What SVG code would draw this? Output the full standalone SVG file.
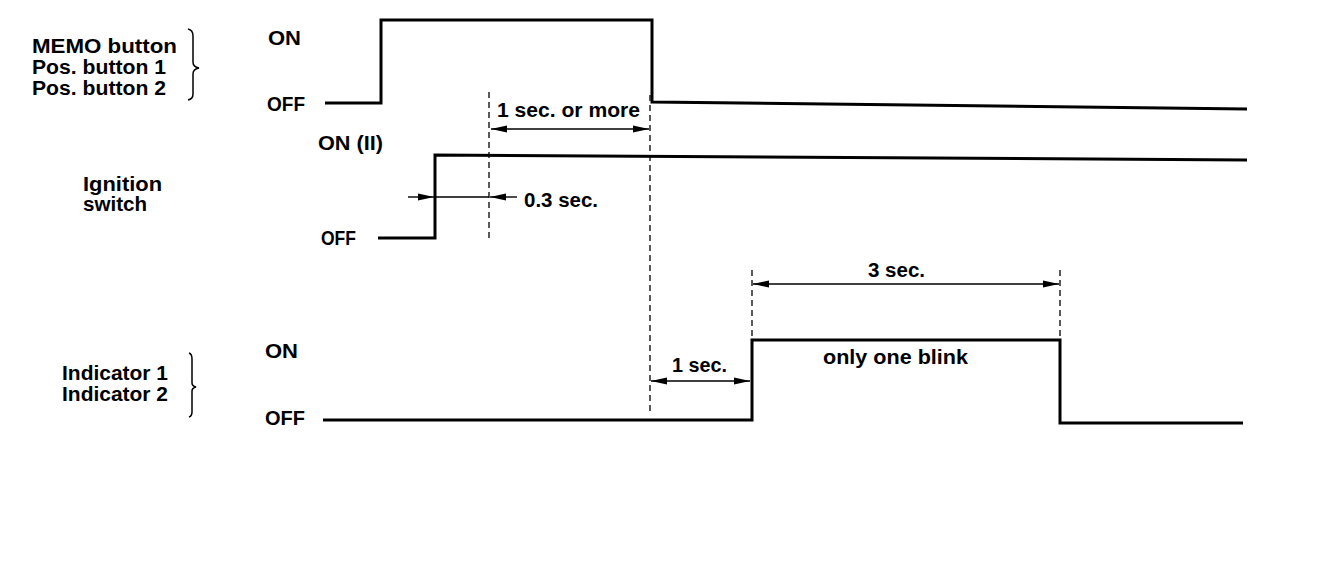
<svg xmlns="http://www.w3.org/2000/svg" width="1344" height="568" viewBox="0 0 1344 568">
<defs>
<style>
.t{font-family:"Liberation Sans",Arial,sans-serif;font-weight:bold;font-size:20px;fill:#000}
.sig{fill:none;stroke:#000;stroke-width:3}
.dash{fill:none;stroke:#000;stroke-width:1.3;stroke-dasharray:6,4}
.dim{fill:none;stroke:#000;stroke-width:1.4}
.br{fill:none;stroke:#000;stroke-width:1.5}
</style>
<marker id="ah" viewBox="0 0 16 8" refX="16" refY="4" markerWidth="16" markerHeight="8" markerUnits="userSpaceOnUse" orient="auto-start-reverse">
<path d="M0,0.5 L16,4 L0,7.5 Z" fill="#000"/>
</marker>
</defs>
<rect width="1344" height="568" fill="#fff"/>

<g id="memo">
<text class="t" x="32" y="53" textLength="145" lengthAdjust="spacingAndGlyphs">MEMO button</text>
<text class="t" x="32" y="74" textLength="134" lengthAdjust="spacingAndGlyphs">Pos. button 1</text>
<text class="t" x="32" y="95" textLength="134" lengthAdjust="spacingAndGlyphs">Pos. button 2</text>
<path class="br" d="M188,29 Q193,30 193,36 L193,62 Q193,67 199,68 Q193,69 193,74 L193,94 Q193,99 188,100"/>
<text class="t" x="268" y="45" textLength="33" lengthAdjust="spacingAndGlyphs">ON</text>
<text class="t" x="267" y="111" textLength="38" lengthAdjust="spacingAndGlyphs">OFF</text>
<path class="sig" d="M325,103 L381,103 L381,20 L652,20 L652,102 L1247,109"/>
</g>

<g id="ignition">
<text class="t" x="83" y="191" textLength="79" lengthAdjust="spacingAndGlyphs">Ignition</text>
<text class="t" x="83" y="211" textLength="64" lengthAdjust="spacingAndGlyphs">switch</text>
<text class="t" x="318" y="150" textLength="65" lengthAdjust="spacingAndGlyphs">ON (II)</text>
<text class="t" x="321" y="245" textLength="35" lengthAdjust="spacingAndGlyphs">OFF</text>
<path class="sig" d="M378,238 L435,238 L435,155 L1247,160"/>
</g>

<g id="indicator">
<text class="t" x="62" y="380" textLength="106" lengthAdjust="spacingAndGlyphs">Indicator 1</text>
<text class="t" x="62" y="401" textLength="106" lengthAdjust="spacingAndGlyphs">Indicator 2</text>
<path class="br" d="M189,353 Q192,354 192,359 L192,383 Q192,386 196,387 Q192,388 192,391 L192,412 Q192,416 189,417"/>
<text class="t" x="265" y="358" textLength="33" lengthAdjust="spacingAndGlyphs">ON</text>
<text class="t" x="265" y="425" textLength="40" lengthAdjust="spacingAndGlyphs">OFF</text>
<path class="sig" d="M323,420 L752,420 L752,340 L1060,340 L1060,423 L1243,423"/>
</g>

<g id="connectors">
<line class="dash" x1="489" y1="92" x2="489" y2="240"/>
<line class="dash" x1="650" y1="95" x2="650" y2="413"/>
<line class="dash" x1="752" y1="270" x2="752" y2="338"/>
<line class="dash" x1="1060" y1="270" x2="1060" y2="338"/>
<line class="dim" x1="491" y1="129" x2="649" y2="129" marker-start="url(#ah)" marker-end="url(#ah)"/>
<line class="dim" x1="408" y1="197" x2="434" y2="197" marker-end="url(#ah)"/>
<line class="dim" x1="435" y1="197" x2="489" y2="197"/>
<line class="dim" x1="517" y1="197" x2="490" y2="197" marker-end="url(#ah)"/>
<line class="dim" x1="753" y1="284" x2="1059" y2="284" marker-start="url(#ah)" marker-end="url(#ah)"/>
<line class="dim" x1="651" y1="381" x2="750" y2="381" marker-start="url(#ah)" marker-end="url(#ah)"/>
</g>

<g id="labels">
<text class="t" x="497" y="117" textLength="143" lengthAdjust="spacingAndGlyphs">1 sec. or more</text>
<text class="t" x="524" y="207" textLength="74" lengthAdjust="spacingAndGlyphs">0.3 sec.</text>
<text class="t" x="868" y="277" textLength="57" lengthAdjust="spacingAndGlyphs">3 sec.</text>
<text class="t" x="672" y="372" textLength="55" lengthAdjust="spacingAndGlyphs">1 sec.</text>
<text class="t" x="823" y="364" textLength="145" lengthAdjust="spacingAndGlyphs">only one blink</text>
</g>
</svg>
